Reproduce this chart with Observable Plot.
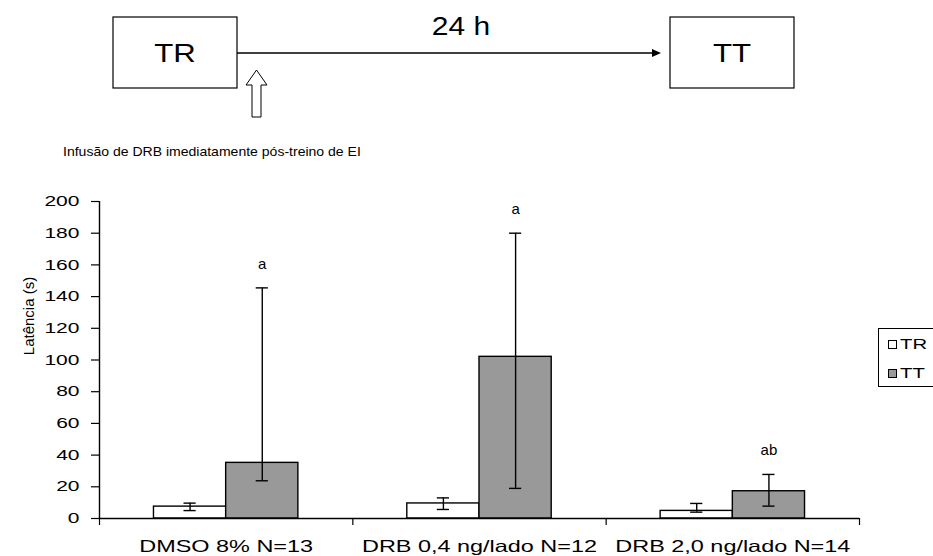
<!DOCTYPE html>
<html>
<head>
<meta charset="utf-8">
<script src="https://cdn.jsdelivr.net/npm/d3@7"></script>
<script src="https://cdn.jsdelivr.net/npm/@observablehq/plot@0.6"></script>
<style>
  html, body { margin: 0; padding: 0; background: white; overflow: hidden; }
  #wrap { position: relative; width: 933px; height: 556px; overflow: hidden; font-family: "Liberation Sans", Arial, sans-serif; }
  #wrap > * { position: absolute; left: 0; top: 0; }
  #legend { left: 878px; top: 328px; width: 80px; height: 59px; border: 1.5px solid black; box-sizing: border-box; background: white; }
  .li { position: absolute; left: 9px; display: flex; align-items: center; font-size: 14px; height: 16px; }
  .sw { width: 9px; height: 9px; border: 1px solid black; box-sizing: border-box; margin-right: 3px; flex: none; }
  .li span { display: inline-block; transform: scaleX(1.45); transform-origin: left center; }
</style>
</head>
<body>
<div id="wrap"></div>
<script>
// ---- data ----
const categories = ["DMSO 8% N=13", "DRB 0,4 ng/lado N=12", "DRB 2,0 ng/lado N=14"];
const series = ["TR", "TT"];
const trMean = [7.5, 9.5, 4.8];
const trLow  = [5.0, 5.7, 4.0];
const trHigh = [9.7, 13.0, 9.5];
const ttMean = [35.1, 102.0, 17.2];
const ttLow  = [23.8, 19.0, 7.8];
const ttHigh = [145.5, 180.0, 27.8];
const sigLetters = ["a", "a", "ab"];
const yTicks = [0, 20, 40, 60, 80, 100, 120, 140, 160, 180, 200];
const colors = ["white", "#999999"];

// ---- table ----
const barW = 0.285;
const rows = categories.flatMap((c, i) => [
  {cat: c, i, s: "TR", mean: trMean[i], lo: trLow[i], hi: trHigh[i]},
  {cat: c, i, s: "TT", mean: ttMean[i], lo: ttLow[i], hi: ttHigh[i]}
]).map(d => {
  const x1 = d.i + 0.5 + (d.s === "TR" ? -barW : 0);
  return {...d, x1, x2: x1 + barW, xc: x1 + barW / 2, sig: d.s === "TT" ? sigLetters[d.i] : ""};
});
const capW = 0.024;

const font = "'Liberation Sans', Arial, sans-serif";
const chart = Plot.plot({
  width: 933,
  height: 556,
  marginTop: 201,
  marginBottom: 38,
  marginLeft: 99,
  marginRight: 74,
  style: {fontFamily: font, fontSize: "15px", color: "black", background: "transparent"},
  x: {domain: [0, categories.length]},
  y: {domain: [0, 200]},
  color: {domain: series, range: colors},
  marks: [
    Plot.rectY(rows, {x1: "x1", x2: "x2", y: "mean", fill: "s", stroke: "black", strokeWidth: 1.4}),
    Plot.ruleX(rows, {x: "xc", y1: "lo", y2: "hi", stroke: "black", strokeWidth: 1.4}),
    Plot.ruleY(rows, {y: "hi", x1: d => d.xc - capW, x2: d => d.xc + capW, stroke: "black", strokeWidth: 1.4}),
    Plot.ruleY(rows, {y: "lo", x1: d => d.xc - capW, x2: d => d.xc + capW, stroke: "black", strokeWidth: 1.4}),
    Plot.text(rows.filter(d => d.sig), {x: "xc", y: "hi", text: "sig", dy: -24, fontSize: 15, ariaLabel: "sig"}),
    Plot.ruleX([0], {stroke: "black", strokeWidth: 1.4}),
    Plot.ruleY([0], {stroke: "black", strokeWidth: 1.4}),
    Plot.axisY({ticks: yTicks, tickSize: 8, tickPadding: 12, label: null, fontSize: 14.5, strokeWidth: 1.2}),
    Plot.axisX({ticks: d3.range(0, categories.length + 1), tickSize: 7, tickFormat: () => "", label: null, strokeWidth: 1.2}),
    Plot.axisX({ticks: categories.map((c, i) => i + 0.5), tickSize: 0, tickPadding: 22,
      tickFormat: v => categories[Math.floor(v)], label: null, fontSize: 16.5}),
    Plot.text(["Latência (s)"], {frameAnchor: "left", textAnchor: "middle", rotate: -90, dx: -70, dy: -44, fontSize: 15, ariaLabel: "ylabel"})
  ]
});
const wrap = document.getElementById("wrap");
wrap.appendChild(chart);

// widen glyphs horizontally about each text's anchor, as in the source figure
function stretch(sel, sx, sy = 1) {
  sel.each(function () {
    const xa = this.getAttribute("x");
    let x = 0;
    if (xa !== null && /^-?[\d.]+$/.test(xa.trim())) {
      x = +xa;
      this.removeAttribute("x");
    }
    const t = this.getAttribute("transform") || "";
    this.setAttribute("transform", `${t} translate(${x},0) scale(${sx},${sy})`);
  });
}
const cs = d3.select(chart);
stretch(cs.selectAll('g[aria-label="y-axis tick label"] text'), 1.45);
stretch(cs.selectAll('g[aria-label="x-axis tick label"] text'), 1.42);
stretch(cs.selectAll('g[aria-label="sig"] text'), 1.4);
stretch(cs.selectAll('g[aria-label="ylabel"] text'), 1, 1.3); // rotated: widens on screen x

// ---- schematic above the chart ----
const svg = d3.select(wrap).append("svg").attr("width", 933).attr("height", 190)
  .style("font-family", font);
const box = (x, w, label) => {
  svg.append("rect").attr("x", x).attr("y", 17).attr("width", w).attr("height", 71)
    .attr("fill", "white").attr("stroke", "black").attr("stroke-width", 1.2);
  svg.append("text").attr("x", x + w / 2).attr("y", 62).attr("text-anchor", "middle")
    .attr("font-size", 26).attr("class", "st").text(label);
};
box(113, 124, series[0]);
box(670, 124, series[1]);
svg.append("line").attr("x1", 237).attr("x2", 653).attr("y1", 53).attr("y2", 53)
  .attr("stroke", "black").attr("stroke-width", 1.5);
svg.append("path").attr("d", "M661,53 L652,49 L652,57 Z").attr("fill", "black");
svg.append("text").attr("x", 461).attr("y", 35).attr("text-anchor", "middle")
  .attr("font-size", 25).attr("class", "st").text("24 h");
svg.append("path").attr("d", "M252,117 L252,85 L246,85 L256.5,70 L267,85 L261,85 L261,117 Z")
  .attr("fill", "white").attr("stroke", "black").attr("stroke-width", 1);
svg.append("text").attr("x", 63).attr("y", 156).attr("font-size", 13)
  .attr("class", "st2").text("Infusão de DRB imediatamente pós-treino de EI");
stretch(svg.selectAll("text.st"), 1.2);
stretch(svg.selectAll("text.st2"), 1.08);

// ---- legend ----
const leg = d3.select(wrap).append("div").attr("id", "legend");
series.forEach((s, k) => {
  const it = leg.append("div").attr("class", "li").style("top", (k === 0 ? 7 : 36) + "px");
  it.append("div").attr("class", "sw").style("background", colors[k]);
  it.append("span").text(s);
});
</script>
</body>
</html>
